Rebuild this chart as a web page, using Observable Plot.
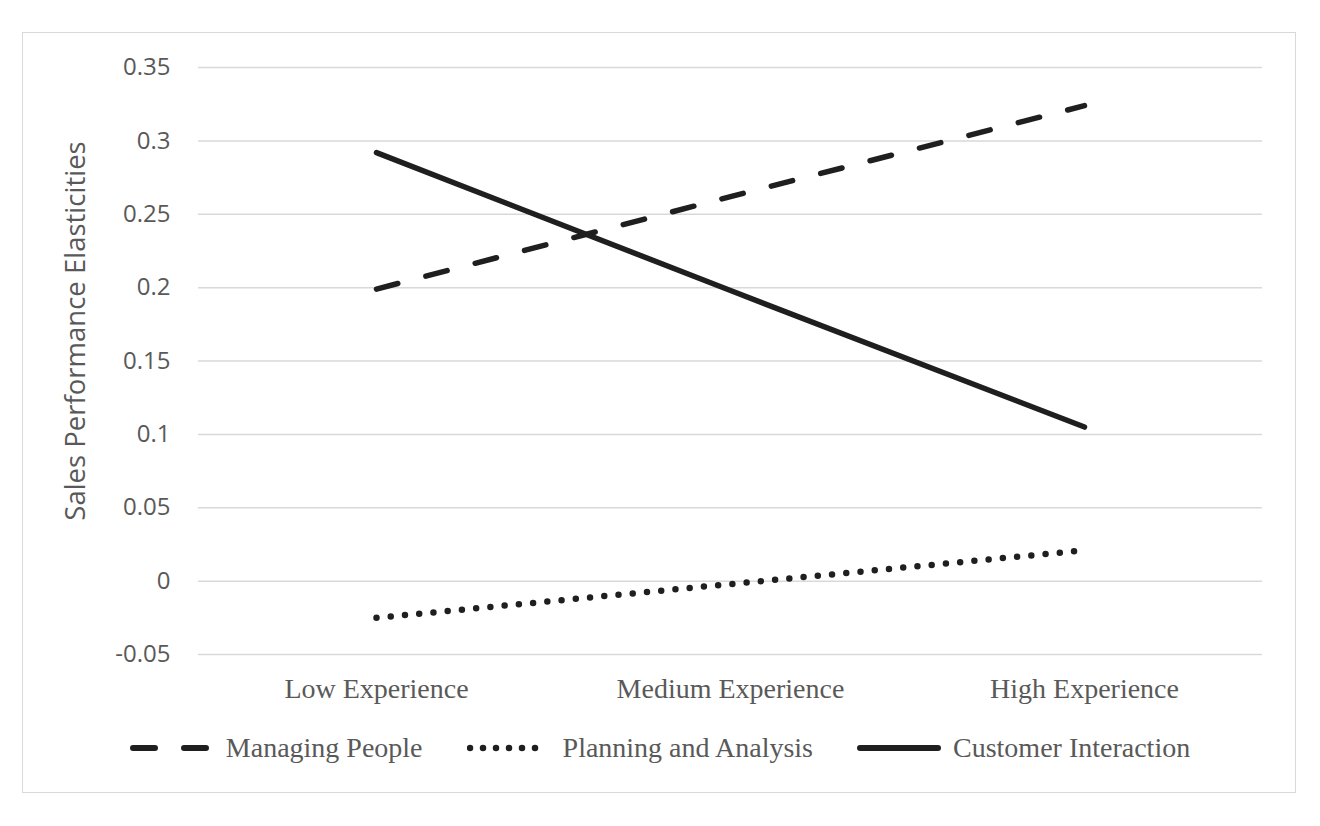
<!DOCTYPE html>
<html>
<head>
<meta charset="utf-8">
<script src="https://cdn.jsdelivr.net/npm/d3@7"></script>
<script src="https://cdn.jsdelivr.net/npm/@observablehq/plot@0.6"></script>
<style>
  html, body { margin: 0; padding: 0; background: #ffffff; }
  #wrap { position: relative; width: 1320px; height: 826px; overflow: hidden; background: #fff; }
  #border { position: absolute; left: 22px; top: 32px; width: 1272px; height: 759px; border: 1.5px solid #d9d9d9; }
  #chart { position: absolute; left: 0; top: 0; }
  #legend { position: absolute; left: 0; top: 728px; width: 1320px; height: 40px; display: flex; justify-content: center; align-items: center;
            font-family: "Liberation Serif", "Times New Roman", serif; font-size: 28px; color: #595959; }
  .item { display: flex; align-items: center; margin: 0 22px; }
  .item svg { display: block; }
  .item span { margin-left: 12px; white-space: nowrap; }
</style>
</head>
<body>
<div id="wrap">
  <div id="border"></div>
  <div id="chart"></div>
  <div id="legend"></div>
</div>
<script>
// ---- data ----
const categories = ["Low Experience", "Medium Experience", "High Experience"];
const seriesNames = ["Managing People", "Planning and Analysis", "Customer Interaction"];
const managingPeople = [0.199, 0.262, 0.324];
const planningAnalysis = [-0.025, -0.002, 0.021];
const customerInteraction = [0.292, 0.198, 0.105];
const yTicks = [-0.05, 0, 0.05, 0.1, 0.15, 0.2, 0.25, 0.3, 0.35];
const yTickLabels = ["-0.05", "0", "0.05", "0.1", "0.15", "0.2", "0.25", "0.3", "0.35"];
const yTitle = ["Sales Performance Elasticities"];

const seriesValues = [managingPeople, planningAnalysis, customerInteraction];
const dashes = ["22,29", "0,14.3", null];
const lineColor = "#1f1f1f";

const rows = [];
seriesNames.forEach((s, i) => categories.forEach((c, j) => rows.push({series: s, cat: c, value: seriesValues[i][j]})));

const lineMarks = seriesNames.map((s, i) => Plot.line(rows.filter(r => r.series === s), {
  x: "cat", y: "value", stroke: lineColor, strokeWidth: i === 1 ? 6.5 : 5.5,
  strokeLinecap: "round", strokeLinejoin: "round",
  strokeDasharray: dashes[i] || undefined
}));

const chart = Plot.plot({
  width: 1320,
  height: 710,
  marginLeft: 198,
  marginRight: 58,
  marginTop: 67,
  marginBottom: 56,
  style: {fontFamily: "'Open Sans', sans-serif", fontSize: "24px", color: "#595959", background: "transparent"},
  x: {type: "point", domain: categories, padding: 0.5, label: null},
  y: {domain: [-0.05, 0.35], label: null},
  marks: [
    Plot.gridY(yTicks, {stroke: "#d9d9d9", strokeOpacity: 1, strokeWidth: 1.5}),
    Plot.axisY(yTicks, {tickSize: 0, tickPadding: 28, label: null, fontSize: 24,
      tickFormat: d => yTickLabels[yTicks.indexOf(d)]}),
    Plot.axisX({tickSize: 0, tickPadding: 24, label: null, fontSize: 28,
      fontFamily: "'Liberation Serif', 'Times New Roman', serif"}),
    Plot.text(yTitle, {text: d => d, frameAnchor: "left", textAnchor: "middle", rotate: -90, dx: -122, dy: -30,
      fontSize: 27.5, fill: "#595959"}),
    ...lineMarks
  ]
});
document.getElementById("chart").appendChild(chart);

// ---- legend ----
const legend = document.getElementById("legend");
seriesNames.forEach((s, i) => {
  const item = document.createElement("div");
  item.className = "item";
  const ns = "http://www.w3.org/2000/svg";
  const svg = document.createElementNS(ns, "svg");
  svg.setAttribute("width", "84");
  svg.setAttribute("height", "20");
  const ln = document.createElementNS(ns, "line");
  ln.setAttribute("x1", "3"); ln.setAttribute("x2", "81");
  ln.setAttribute("y1", "10"); ln.setAttribute("y2", "10");
  ln.setAttribute("stroke", lineColor);
  ln.setAttribute("stroke-width", i === 1 ? "6.5" : "6");
  ln.setAttribute("stroke-linecap", "round");
  if (dashes[i]) ln.setAttribute("stroke-dasharray", i === 0 ? "22,29" : "0,13");
  svg.appendChild(ln);
  const span = document.createElement("span");
  span.textContent = s;
  item.appendChild(svg);
  item.appendChild(span);
  legend.appendChild(item);
});
</script>
</body>
</html>
